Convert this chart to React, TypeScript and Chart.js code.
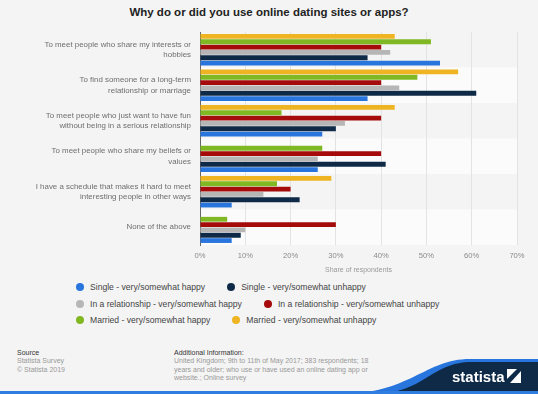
import React, { useEffect, useRef } from 'react';
import { Chart, registerables } from 'chart.js';

Chart.register(...registerables);

const categories: string[][] = [
  ['To meet people who share my interests or', 'hobbies'],
  ['To find someone for a long-term', 'relationship or marriage'],
  ['To meet people who just want to have fun', 'without being in a serious relationship'],
  ['To meet people who share my beliefs or', 'values'],
  ['I have a schedule that makes it hard to meet', 'interesting people in other ways'],
  ['None of the above'],
];

const singleHappy = [53, 37, 27, 26, 7, 7];
const singleUnhappy = [37, 61, 30, 41, 22, 9];
const relationshipHappy = [42, 44, 32, 26, 14, 10];
const relationshipUnhappy = [40, 40, 40, 40, 20, 30];
const marriedHappy = [51, 48, 18, 27, 17, 6];
const marriedUnhappy = [43, 57, 43, 0, 29, 0];

const seriesNames = [
  'Single - very/somewhat happy',
  'Single - very/somewhat unhappy',
  'In a relationship - very/somewhat happy',
  'In a relationship - very/somewhat unhappy',
  'Married - very/somewhat happy',
  'Married - very/somewhat unhappy',
];
const seriesColors = ['#2876dd', '#0f2a47', '#b6b6b6', '#a50b0b', '#80b823', '#efb422'];
const seriesValues = [singleHappy, singleUnhappy, relationshipHappy, relationshipUnhappy, marriedHappy, marriedUnhappy];

const xMax = 70;
const xStep = 10;

const FONT = "'Liberation Sans', Arial, Helvetica, sans-serif";

const bandPlugin = {
  id: 'bands',
  beforeDraw(chart: any) {
    const { ctx, chartArea } = chart;
    const n = categories.length;
    const h = (chartArea.bottom - chartArea.top) / n;
    ctx.save();
    ctx.fillStyle = '#fbfbfb';
    for (let i = 1; i < n; i += 2) {
      ctx.fillRect(chartArea.left, chartArea.top + i * h, chartArea.right - chartArea.left, h);
    }
    ctx.restore();
  },
};

export default function App() {
  const ref = useRef<HTMLCanvasElement | null>(null);

  useEffect(() => {
    if (!ref.current) return;
    // datasets top-to-bottom within each group: reverse legend order
    const order = [5, 4, 3, 2, 1, 0];
    const chart = new Chart(ref.current, {
      type: 'bar',
      data: {
        labels: categories as any,
        datasets: order.map((i) => ({
          label: seriesNames[i],
          data: seriesValues[i],
          backgroundColor: seriesColors[i],
          borderWidth: 0,
          categoryPercentage: 0.9,
          barPercentage: 0.9,
        })),
      },
      options: {
        indexAxis: 'y',
        responsive: false,
        animation: false,
        devicePixelRatio: 1,
        layout: { padding: { top: 32, right: 21, left: 0, bottom: 0 } },
        plugins: {
          legend: { display: false },
          tooltip: { enabled: false },
          title: { display: false },
        },
        scales: {
          y: {
            type: 'category',
            grid: { display: false, drawTicks: false },
            border: { display: true, color: '#666', width: 1 },
            ticks: {
              autoSkip: false,
              color: '#6e6e6e',
              padding: 9,
              font: { family: FONT, size: 7.9, lineHeight: 1.3 },
            },
            afterFit: (s: any) => {
              s.width = 200;
            },
          },
          x: {
            min: 0,
            max: xMax,
            grid: { color: '#e3e3e3', drawTicks: false },
            border: { display: false },
            ticks: {
              stepSize: xStep,
              padding: 6,
              color: '#8a8a8a',
              font: { family: FONT, size: 7.6 },
              callback: (v: any) => v + '%',
            },
            title: {
              display: true,
              text: 'Share of respondents',
              color: '#999',
              padding: 0,
              font: { family: FONT, size: 7 },
            },
            afterFit: (s: any) => {
              s.height = 29;
            },
          },
        },
      },
      plugins: [bandPlugin],
    });
    return () => chart.destroy();
  }, []);

  const legendRows = [
    [0, 1],
    [2, 3],
    [4, 5],
  ];
  const rowCenters = [287.3, 304, 320.3];

  return (
    <div
      style={{
        position: 'absolute',
        left: 0,
        top: 0,
        width: 538,
        height: 394,
        background: '#f4f4f4',
        overflow: 'hidden',
        fontFamily: FONT,
      }}
    >
      <div
        style={{
          position: 'absolute',
          left: 0,
          top: 5.4,
          width: 538,
          textAlign: 'center',
          fontWeight: 'bold',
          fontSize: 11.5,
          lineHeight: '14px',
          color: '#222',
        }}
      >
        Why do or did you use online dating sites or apps?
      </div>
      <canvas
        ref={ref}
        width={538}
        height={274}
        style={{ position: 'absolute', left: 0, top: 0, width: 538, height: 274, display: 'block' }}
      />
      {legendRows.map((row, ri) => (
        <div
          key={ri}
          style={{
            position: 'absolute',
            left: 76,
            top: rowCenters[ri] - 5,
            height: 10,
            display: 'flex',
            alignItems: 'center',
            whiteSpace: 'nowrap',
          }}
        >
          {row.map((si, k) => (
            <div key={si} style={{ display: 'flex', alignItems: 'center', marginRight: k === 0 ? 22 : 0 }}>
              <span
                style={{
                  display: 'inline-block',
                  width: 8,
                  height: 8,
                  borderRadius: 4,
                  background: seriesColors[si],
                  marginRight: 6,
                }}
              />
              <span style={{ fontSize: 8.6, lineHeight: '10px', color: '#444' }}>{seriesNames[si]}</span>
            </div>
          ))}
        </div>
      ))}
      <div style={{ position: 'absolute', left: 17, top: 349, fontSize: 7, lineHeight: '8.4px' }}>
        <div style={{ color: '#333' }}>Source</div>
        <div style={{ color: '#999' }}>Statista Survey</div>
        <div style={{ color: '#999' }}>© Statista 2019</div>
      </div>
      <div style={{ position: 'absolute', left: 174, top: 349, fontSize: 7, lineHeight: '8.4px', width: 200 }}>
        <div style={{ color: '#333' }}>Additional Information:</div>
        <div style={{ color: '#999' }}>United Kingdom; 9th to 11th of May 2017; 383 respondents; 18</div>
        <div style={{ color: '#999' }}>years and older; who use or have used an online dating app or</div>
        <div style={{ color: '#999' }}>website.; Online survey</div>
      </div>
      <svg
        width={538}
        height={394}
        style={{ position: 'absolute', left: 0, top: 0, pointerEvents: 'none' }}
      >
        <path d="M 340 394 C 410 394, 425 359, 470 359 L 538 359 L 538 394 Z" fill="#2876dd" />
        <path d="M 372 394 C 425 394, 430 362, 472 362 L 538 362 L 538 394 Z" fill="#0f2a47" />
        <rect x={0} y={391} width={538} height={3} fill="#2f7de0" />
        <text
          x={452}
          y={381.5}
          fill="#ffffff"
          fontFamily={FONT}
          fontWeight="bold"
          fontSize={15}
        >
          statista
        </text>
        <polygon points="507,369 517,369 507,379" fill="#ffffff" />
        <polygon points="521,371 521,383 510,383" fill="#ffffff" />
      </svg>
    </div>
  );
}
